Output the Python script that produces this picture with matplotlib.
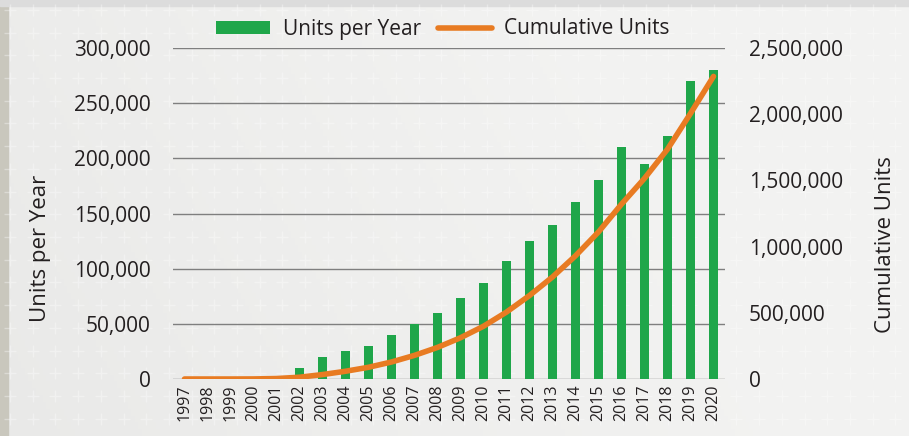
import numpy as np
import matplotlib
matplotlib.use("Agg")
import matplotlib.pyplot as plt
from matplotlib.ticker import FuncFormatter, FixedLocator
from matplotlib.patches import Rectangle

years = [str(y) for y in range(1997, 2021)]
units_per_year = [0, 0, 0, 500, 3000, 10000, 20000, 25000, 30000, 40000, 50000, 60000,
                  73000, 87000, 107000, 125000, 140000, 160000, 180000, 210000,
                  195000, 220000, 270000, 280000]
cumulative_units = [0, 0, 0, 500, 3500, 13500, 33500, 58500, 88500, 128500, 178500,
                    238500, 311500, 398500, 505500, 630500, 770500, 930500, 1110500,
                    1320500, 1515500, 1735500, 2005500, 2285500]
left_ticks = [0, 50000, 100000, 150000, 200000, 250000, 300000]
right_ticks = [0, 500000, 1000000, 1500000, 2000000, 2500000]

GREEN = "#1fa64a"
ORANGE = "#e87b22"
TEXT = "#231f20"
GRID = "#7f7f7f"

plt.rcParams['font.family'] = ['Open Sans', 'DejaVu Sans']

W, H = 909, 436
fig = plt.figure(figsize=(W / 100, H / 100), dpi=100)
fig.patch.set_facecolor("#eeeeee")

# background decoration
bg = fig.add_axes([0, 0, 1, 1], zorder=-10)
bg.set_xlim(0, W)
bg.set_ylim(H, 0)
bg.axis("off")
xx, yy = np.meshgrid(np.linspace(0, 1, 256), np.linspace(0, 1, 64))
shade = 0.915 + 0.035 * np.clip(xx * 1.2 + (1 - yy) * 0.3, 0, 1)
img = np.dstack([shade, shade, shade * 0.995])
bg.imshow(img, extent=[0, W, H, 0], aspect="auto", zorder=0)
bg.add_patch(Rectangle((0, 0), 8, H, color="#c9c7bd", zorder=1))
bg.add_patch(Rectangle((0, 0), W, 6, color="#dcdcdc", zorder=1))
gx = np.arange(10, W, 22.7)
gy = np.arange(10, H, 22.7)
GX, GY = np.meshgrid(gx, gy)
bg.plot(GX.ravel(), GY.ravel(), "+", color="white", alpha=0.35, ms=8, mew=1.0, zorder=2)

ax = fig.add_axes([173 / W, 1 - 379 / H, (725 - 173) / W, (379 - 48) / H])
ax.patch.set_alpha(0)
x = np.arange(len(years))
ax.bar(x, units_per_year, width=0.4, color=GREEN, zorder=3, label="Units per Year")
ax.set_xlim(-0.5, len(years) - 0.5)
ax.set_ylim(0, 300000)
ax.yaxis.set_major_locator(FixedLocator(left_ticks))
ax.yaxis.set_major_formatter(FuncFormatter(lambda v, p: f"{int(v):,}"))
ax.grid(axis="y", color=GRID, lw=1.0, zorder=1)
ax.set_axisbelow(True)
ax.set_xticks(x)
ax.set_xticklabels(years, rotation=90, fontsize=11.5, color=TEXT)
for s in ax.spines.values():
    s.set_visible(False)
ax.tick_params(axis="y", length=0, pad=16, labelsize=15, labelcolor=TEXT)
ax.tick_params(axis="x", length=0, pad=4)
ax.set_ylabel("Units per Year", fontsize=16, color=TEXT)
ax.yaxis.set_label_coords((51 - 173) / (725 - 173), (379 - 248) / (379 - 48))

ax2 = ax.twinx()
ax2.plot(x, cumulative_units, color=ORANGE, lw=4, solid_capstyle="round", zorder=4,
         label="Cumulative Units")
ax2.set_ylim(0, 2500000)
ax2.yaxis.set_major_locator(FixedLocator(right_ticks))
ax2.yaxis.set_major_formatter(FuncFormatter(lambda v, p: f"{int(v):,}"))
for s in ax2.spines.values():
    s.set_visible(False)
ax2.tick_params(axis="y", length=0, pad=17, labelsize=15, labelcolor=TEXT)
ax2.set_ylabel("Cumulative Units", fontsize=16, color=TEXT)
ax2.yaxis.set_label_coords((875 - 173) / (725 - 173), (379 - 245) / (379 - 48))

h1, l1 = ax.get_legend_handles_labels()
h2, l2 = ax2.get_legend_handles_labels()
leg = fig.legend(h1 + h2, l1 + l2, loc="center", bbox_to_anchor=(443 / W, 1 - 29 / H),
                 ncol=2, frameon=False, fontsize=15, handlelength=2.6, handleheight=0.6,
                 columnspacing=0.8, handletextpad=0.6, labelcolor=TEXT)

fig.savefig("out.png", dpi=100, facecolor=fig.get_facecolor())
